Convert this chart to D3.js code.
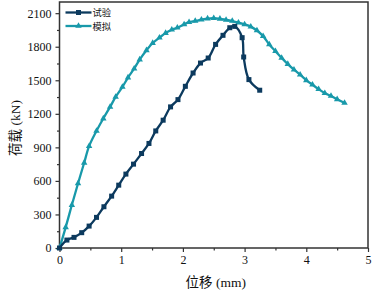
<!DOCTYPE html>
<html>
<head>
<meta charset="utf-8">
<script src="https://cdn.jsdelivr.net/npm/d3@7"></script>
<style>
  body { margin: 0; background: #fff; }
  text { font-family: "Liberation Serif", "Noto Sans CJK SC", serif; fill: #111; }
</style>
</head>
<body>
<script>
// Chart data
var testX = [0, 0.12, 0.235, 0.36, 0.48, 0.6, 0.72, 0.845, 0.96, 1.076, 1.2, 1.33, 1.45, 1.56, 1.68, 1.8, 1.92, 2.04, 2.165, 2.285, 2.41, 2.53, 2.65, 2.76, 2.84, 2.96, 2.985, 3.07, 3.245];
var testY = [0, 71, 95, 137, 196, 274, 369, 464, 562, 661, 750, 845, 935, 1047, 1143, 1262, 1327, 1446, 1565, 1654, 1699, 1821, 1902, 1970, 1982, 1881, 1708, 1506, 1411];

var simX = [0, 0.1, 0.2, 0.3, 0.4, 0.48, 0.6, 0.71, 0.82, 0.91, 1.02, 1.11, 1.21, 1.3, 1.41, 1.51, 1.62, 1.72, 1.82, 1.91, 2.02, 2.1, 2.2, 2.3, 2.4, 2.5, 2.6, 2.7, 2.8, 2.9, 3.0, 3.1, 3.2, 3.3, 3.4, 3.5, 3.6, 3.7, 3.8, 3.9, 4.0, 4.1, 4.2, 4.3, 4.4, 4.5, 4.62];
var simY = [0, 185, 384, 577, 762, 911, 1047, 1158, 1262, 1351, 1440, 1524, 1604, 1685, 1768, 1833, 1881, 1922, 1952, 1970, 2000, 2020, 2030, 2042, 2052, 2055, 2050, 2040, 2030, 2015, 2000, 1980, 1945, 1895, 1820, 1760, 1700, 1645, 1595, 1550, 1500, 1460, 1420, 1385, 1360, 1330, 1297];

var xTicks = [0, 1, 2, 3, 4, 5];
var yTicks = [0, 300, 600, 900, 1200, 1500, 1800, 2100];
var seriesNames = ["试验", "模拟"];

var margin = { top: 2, right: 5, bottom: 44, left: 59.5 },
    width = 373 - margin.left - margin.right,
    height = 292 - margin.top - margin.bottom;

var svg = d3.select("body").append("svg")
    .attr("width", 373)
    .attr("height", 292)
    .append("g")
    .attr("transform", "translate(" + margin.left + "," + margin.top + ")");

var x = d3.scaleLinear().domain([0, 5]).range([0, width]);
var y = d3.scaleLinear().domain([0, 2200]).range([height, 0]);

// minor ticks
svg.append("g")
    .attr("transform", "translate(0," + height + ")")
    .call(d3.axisBottom(x).tickValues(d3.range(0.5, 5, 1)).tickSize(2.5).tickFormat(""))
    .call(function(g) { g.select(".domain").remove(); });
svg.append("g")
    .call(d3.axisLeft(y).tickValues(d3.range(150, 2200, 300)).tickSize(2.5).tickFormat(""))
    .call(function(g) { g.select(".domain").remove(); });

// major axes
var xAxis = svg.append("g")
    .attr("transform", "translate(0," + height + ")")
    .call(d3.axisBottom(x).tickValues(xTicks).tickSize(4).tickPadding(3).tickFormat(d3.format("d")));
var yAxis = svg.append("g")
    .call(d3.axisLeft(y).tickValues(yTicks).tickSize(4).tickPadding(4).tickFormat(d3.format("d")));

svg.selectAll(".tick line").attr("stroke", "#333").attr("stroke-width", 1.2);
svg.selectAll(".tick text").style("font-size", "12px").style("font-family", "Liberation Serif");

// frame
svg.append("rect")
    .attr("x", 0).attr("y", 0)
    .attr("width", width).attr("height", height)
    .attr("fill", "none")
    .attr("stroke", "#333")
    .attr("stroke-width", 1.5);
svg.selectAll(".domain").remove();

var testData = testX.map(function(d, i) { return [d, testY[i]]; });
var simData = simX.map(function(d, i) { return [d, simY[i]]; });

var line = d3.line()
    .x(function(d) { return x(d[0]); })
    .y(function(d) { return y(d[1]); })
    .curve(d3.curveCatmullRom.alpha(0.5));

var testColor = "#0c3a5e", simColor = "#1899aa";

svg.append("path").datum(simData)
    .attr("d", line).attr("fill", "none")
    .attr("stroke", simColor).attr("stroke-width", 2.3);
svg.append("path").datum(testData)
    .attr("d", line).attr("fill", "none")
    .attr("stroke", testColor).attr("stroke-width", 2.3);

var tri = d3.symbol().type(d3.symbolTriangle).size(18);
svg.selectAll(".tri").data(simData).enter().append("path")
    .attr("class", "tri")
    .attr("d", tri)
    .attr("transform", function(d) { return "translate(" + x(d[0]) + "," + y(d[1]) + ")"; })
    .attr("fill", simColor);

svg.selectAll(".sq").data(testData).enter().append("rect")
    .attr("class", "sq")
    .attr("x", function(d) { return x(d[0]) - 2.5; })
    .attr("y", function(d) { return y(d[1]) - 2.5; })
    .attr("width", 5).attr("height", 5)
    .attr("fill", testColor);

// legend
var legend = svg.append("g").attr("transform", "translate(6,10.5)");
var rowGap = 13.5;
[testColor, simColor].forEach(function(c, i) {
    var g = legend.append("g").attr("transform", "translate(0," + (i * rowGap) + ")");
    g.append("line").attr("x1", 0).attr("x2", 26).attr("y1", 0).attr("y2", 0)
        .attr("stroke", c).attr("stroke-width", 2.3);
    if (i === 0) {
        g.append("rect").attr("x", 10.5).attr("y", -2.5).attr("width", 5).attr("height", 5).attr("fill", c);
    } else {
        g.append("path").attr("d", tri).attr("transform", "translate(13,0)").attr("fill", c);
    }
    g.append("text").attr("x", 27).attr("y", 3.5)
        .style("font-size", "9.3px")
        .style("font-family", "Noto Sans CJK SC")
        .text(seriesNames[i]);
});

// axis titles
svg.append("text")
    .attr("transform", "translate(" + (width / 2 + 2) + "," + (height + 39) + ")")
    .attr("text-anchor", "middle")
    .style("font-size", "13.5px")
    .text("位移 (mm)");

svg.append("text")
    .attr("transform", "translate(" + (-40) + "," + (height / 2 + 3) + ") rotate(-90)")
    .attr("text-anchor", "middle")
    .style("font-size", "13.5px")
    .text("荷载 (kN)");
</script>
</body>
</html>
